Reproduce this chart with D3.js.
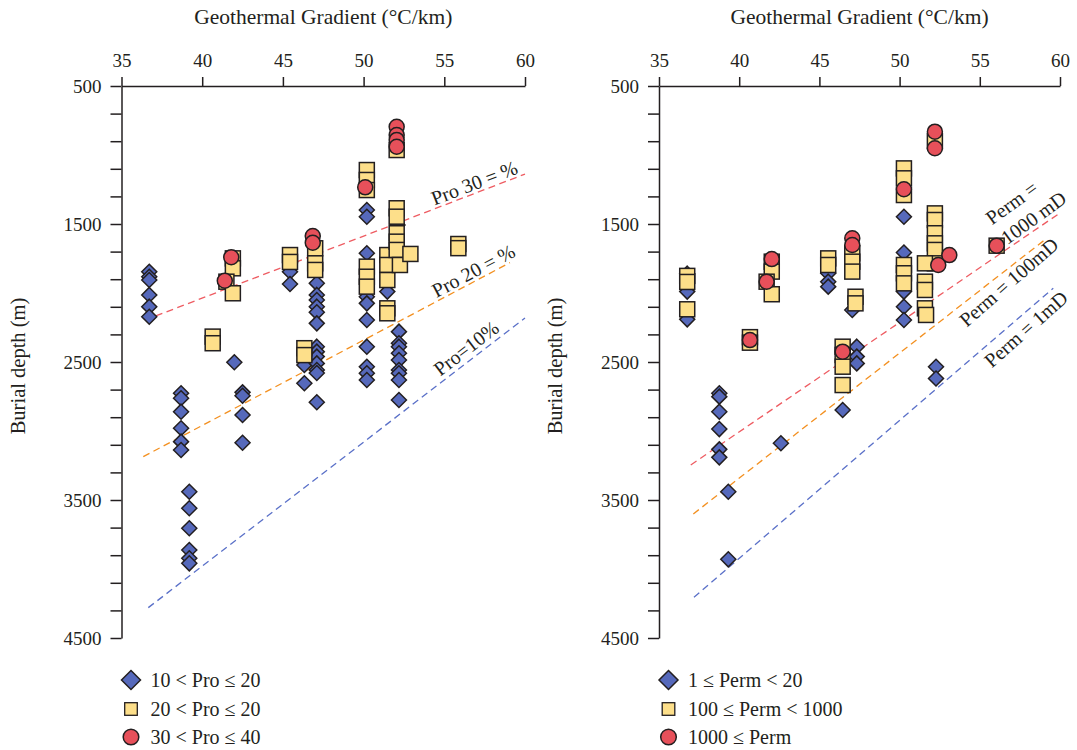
<!DOCTYPE html>
<html>
<head>
<meta charset="utf-8">
<script src="https://cdn.jsdelivr.net/npm/d3@7"></script>
<style>
  body { margin: 0; background: #fff; }
  svg { display: block; }
  svg text { font-family: "Liberation Serif", "DejaVu Serif", serif; fill: #231f20; }
</style>
</head>
<body>
<svg id="chart" width="1077" height="750" font-family="Liberation Serif, DejaVu Serif, serif"></svg>
<script>
// ---- axis ticks ----
const gradientTicks = [35, 40, 45, 50, 55, 60];
const depthTicks = d3.range(500, 4501, 200);
const depthLabels = [500, 1500, 2500, 3500, 4500];

// ---- left panel: porosity classes, [gradient °C/km, burial depth m] ----
const proLow = [
  [36.72,1846],[36.72,1882],[36.72,1906],[36.72,2014],[36.72,2099],[36.72,2172],
  [38.69,2727],[38.69,2763],[38.69,2860],[38.69,2980],[38.69,3077],[38.69,3138],
  [39.2,3440],[39.2,3560],[39.2,3705],[39.2,3862],[39.2,3922],[39.2,3959],
  [41.99,2502],[42.5,2720],[42.5,2745],[42.5,2884],[42.5,3085],
  [45.44,1846],[45.44,1935],
  [46.33,2522],[46.33,2654],
  [47.1,1930],[47.1,2014],[47.1,2051],[47.1,2099],[47.1,2140],[47.1,2220],
  [47.1,2389],[47.1,2425],[47.1,2461],[47.1,2510],[47.1,2558],[47.1,2580],[47.1,2792],
  [50.2,1399],[50.2,1447],[50.2,1712],[50.2,2027],[50.2,2075],[50.2,2196],
  [50.2,2389],[50.2,2534],[50.2,2582],[50.2,2630],
  [51.47,1990],[52.1,1507],
  [52.19,2280],[52.19,2364],[52.19,2389],[52.19,2437],[52.19,2486],
  [52.19,2558],[52.19,2582],[52.19,2630],[52.19,2775]
];
const proMid = [
  [40.65,2316],[40.65,2364],
  [41.9,1749],[41.9,1821],[41.5,1918],[41.9,2002],
  [45.44,1725],[45.44,1775],
  [46.33,2400],[46.33,2450],
  [47.0,1676],[47.0,1785],[47.0,1833],
  [50.2,1109],[50.2,1181],[50.2,1254],[50.2,1809],[50.2,1882],[50.2,1954],
  [51.47,1725],[51.47,1797],[51.47,1906],[51.47,2111],[51.47,2147],
  [52.05,964],[52.05,1386],[52.05,1447],[52.05,1567],[52.05,1628],[52.05,1688],[52.25,1797],
  [52.9,1717],
  [55.87,1645],[55.87,1675]
];
const proHigh = [
  [41.8,1741],[41.4,1911],
  [46.85,1587],[46.85,1636],
  [50.1,1234],
  [52.05,795],[52.05,855],[52.05,891],[52.05,940]
];

// ---- right panel: permeability classes ----
const permLow = [
  [36.76,1860],[36.76,1990],[36.76,2191],
  [38.76,2727],[38.76,2751],[38.76,2860],[38.76,2986],[38.76,3133],[38.76,3191],
  [39.32,3440],[39.32,3930],
  [42.6,3089],
  [45.55,1857],[45.55,1918],[45.55,1954],
  [46.45,2848],
  [47.05,2123],
  [47.33,2389],[47.33,2461],[47.33,2510],
  [50.27,1447],[50.27,1707],[50.27,1990],[50.27,2099],[50.27,2196],
  [52.27,2534],[52.27,2620]
];
const permMid = [
  [36.76,1876],[36.76,1920],[36.76,2118],
  [40.67,2320],[40.67,2360],
  [42.03,1773],[42.03,1845],[41.71,1918],[42.03,2009],
  [45.55,1749],[45.55,1797],
  [47.05,1712],[47.05,1773],[47.05,1845],[47.25,2027],[47.25,2075],
  [46.45,2389],[46.45,2449],[46.45,2534],[46.45,2667],
  [50.27,1097],[50.27,1169],[50.27,1290],[50.27,1797],[50.27,1857],[50.27,1930],
  [52.2,900],[52.2,1423],[52.2,1471],[52.2,1567],[52.2,1640],[52.2,1688],[52.2,1785],
  [51.58,1785],[51.58,1918],[51.58,1978],[51.58,2111],[51.65,2159],
  [56.05,1657]
];
const permHigh = [
  [42.03,1754],[41.71,1918],[40.67,2341],
  [47.05,1604],[47.05,1652],[46.45,2425],
  [52.2,831],[52.2,951],[50.27,1248],
  [52.41,1797],[53.1,1725],[56.05,1657]
];

// ---- reference lines (two end points each) ----
const proLines = [
  { name: "Pro30", ends: [[36.46,2196],[60,1138]] },
  { name: "Pro20", ends: [[36.35,3186],[59.07,1780]] },
  { name: "Pro10", ends: [[36.66,4280],[60,2181]] }
];
const permLines = [
  { name: "Perm1000", ends: [[36.98,3246],[60,1420]] },
  { name: "Perm100", ends: [[37.14,3601],[59.17,1604]] },
  { name: "Perm1", ends: [[37.18,4205],[59.58,1966]] }
];

// ---- look ----
const lineColor = { Pro30: "#ee5c62", Pro20: "#f39020", Pro10: "#5a70c8",
                    Perm1000: "#ee5c62", Perm100: "#f39020", Perm1: "#5a70c8" };
const fillDiamond = "#5669bb", fillSquare = "#fddf8a", fillCircle = "#e7505a";
const ink = "#231f20";
const serifStack = "Liberation Serif, DejaVu Serif, serif";

const svg = d3.select("#chart");

const panels = [
  { x0: 121.5, x1: 525, low: proLow, mid: proMid, high: proHigh, lines: proLines,
    legend: ["10 < Pro \u2264 20", "20 < Pro \u2264 20", "30 < Pro \u2264 40"],
    labels: [
      { line: "Pro30", t: 0.876, off: -3, rows: ["Pro 30 = %"] },
      { line: "Pro20", t: 0.913, off: -3, rows: ["Pro 20 = %"] },
      { line: "Pro10", t: 0.863, off: -5, rows: ["Pro=10%"] }
    ] },
  { x0: 659, x1: 1060, low: permLow, mid: permMid, high: permHigh, lines: permLines,
    legend: ["1 \u2264 Perm < 20", "100 \u2264 Perm < 1000", "1000 \u2264 Perm"],
    labels: [
      { line: "Perm1000", t: 0.946, off: -4, angle: -36, rows: ["Perm =", "1000 mD"], shift: [-9, -25] },
      { line: "Perm100", t: 0.872, off: 18, angle: -41, rows: ["Perm = 100mD"] },
      { line: "Perm1", t: 0.90, off: 20, angle: -41.5, rows: ["Perm = 1mD"] }
    ] }
];

const yTop = 86, yBottom = 638;

function diamondPath(h) { return `M0,${-h}L${h},0L0,${h}L${-h},0Z`; }

panels.forEach(p => {
  const x = d3.scaleLinear().domain([35, 60]).range([p.x0, p.x1]);
  const y = d3.scaleLinear().domain([500, 4500]).range([yTop, yBottom]);
  const g = svg.append("g");

  // top axis: gradient
  const xAxis = g.append("g").attr("transform", `translate(0,${yTop})`)
    .call(d3.axisTop(x).tickValues(gradientTicks).tickSize(9).tickSizeOuter(0).tickPadding(10));
  // left axis: depth, labelled every 1000 m
  const yAxis = g.append("g").attr("transform", `translate(${p.x0},0)`)
    .call(d3.axisLeft(y).tickValues(depthTicks).tickSize(11).tickSizeOuter(0).tickPadding(9)
      .tickFormat(d => depthLabels.includes(d) ? d : ""));
  [xAxis, yAxis].forEach(a => {
    a.attr("font-family", serifStack).attr("font-size", 19);
    a.selectAll("path, line").attr("stroke", ink).attr("stroke-width", 1.5);
    a.selectAll("text").attr("fill", ink);
  });
  yAxis.selectAll("text").attr("dy", "0.34em");

  // axis titles
  g.append("text").attr("x", (p.x0 + p.x1) / 2).attr("y", 24)
    .attr("text-anchor", "middle").attr("font-size", 21.5).text("Geothermal Gradient (\u00B0C/km)");
  g.append("text").attr("transform", `translate(${p.x0 - 97},${(yTop + yBottom) / 2 + 4}) rotate(-90)`)
    .attr("text-anchor", "middle").attr("font-size", 20.5).text("Burial depth (m)");

  // dashed reference lines
  const lineById = {};
  p.lines.forEach(l => {
    const [a, b] = l.ends;
    const pa = [x(a[0]), y(a[1])], pb = [x(b[0]), y(b[1])];
    lineById[l.name] = [pa, pb];
    g.append("line").attr("x1", pa[0]).attr("y1", pa[1]).attr("x2", pb[0]).attr("y2", pb[1])
      .attr("stroke", lineColor[l.name]).attr("stroke-width", 1.3).attr("stroke-dasharray", "7,4.5");
  });

  // labels along the lines
  p.labels.forEach(lb => {
    const [pa, pb] = lineById[lb.line];
    const px = pa[0] + (pb[0] - pa[0]) * lb.t, py = pa[1] + (pb[1] - pa[1]) * lb.t;
    const ang = lb.angle != null ? lb.angle : Math.atan2(pb[1] - pa[1], pb[0] - pa[0]) * 180 / Math.PI;
    const tg = g.append("g").attr("transform", `translate(${px},${py}) rotate(${ang})`);
    const n = lb.rows.length;
    lb.rows.forEach((r, i) => {
      const isLast = i === n - 1;
      const sx = isLast ? 0 : (lb.shift ? lb.shift[0] : 0);
      const sy = isLast ? lb.off : lb.off + (lb.shift ? lb.shift[1] : 0);
      tg.append("text").attr("x", sx).attr("y", sy).attr("text-anchor", "middle")
        .attr("font-size", 20).text(r);
    });
  });

  // markers: diamonds, then squares, then circles on top
  const h = 7.5;
  g.append("g").selectAll("path").data(p.low).join("path")
    .attr("d", diamondPath(h))
    .attr("transform", d => `translate(${x(d[0])},${y(d[1])})`)
    .attr("fill", fillDiamond).attr("stroke", ink).attr("stroke-width", 1.5);
  g.append("g").selectAll("rect").data(p.mid).join("rect")
    .attr("x", d => x(d[0]) - 7.5).attr("y", d => y(d[1]) - 7.5)
    .attr("width", 15).attr("height", 15)
    .attr("fill", fillSquare).attr("stroke", ink).attr("stroke-width", 1.5);
  g.append("g").selectAll("circle").data(p.high).join("circle")
    .attr("cx", d => x(d[0])).attr("cy", d => y(d[1])).attr("r", 7.5)
    .attr("fill", fillCircle).attr("stroke", ink).attr("stroke-width", 1.5);

  // legend
  const lx = p.x0 + 9.5, tx = p.x0 + 29, rows = [680, 709, 737];
  const leg = g.append("g");
  leg.append("path").attr("d", diamondPath(9.5)).attr("transform", `translate(${lx},${rows[0]})`)
    .attr("fill", fillDiamond).attr("stroke", ink).attr("stroke-width", 1.5);
  leg.append("rect").attr("x", lx - 6.3).attr("y", rows[1] - 6.3).attr("width", 12.6).attr("height", 12.6)
    .attr("fill", fillSquare).attr("stroke", ink).attr("stroke-width", 1.3);
  leg.append("circle").attr("cx", lx).attr("cy", rows[2]).attr("r", 7.8)
    .attr("fill", fillCircle).attr("stroke", ink).attr("stroke-width", 1.5);
  p.legend.forEach((t, i) => {
    leg.append("text").attr("x", tx).attr("y", rows[i] + 6.5).attr("font-size", 20).text(t);
  });
});
</script>
</body>
</html>
